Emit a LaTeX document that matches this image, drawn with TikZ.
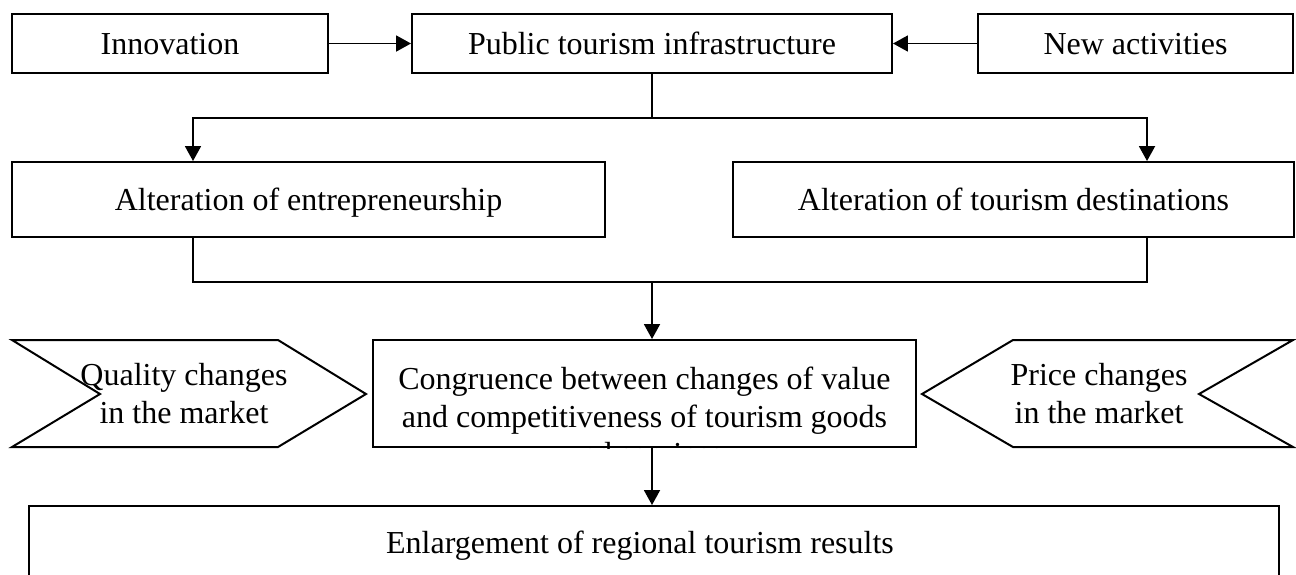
\documentclass[tikz,border=0pt]{standalone}
\usepackage{fontspec}
\setmainfont{Liberation Serif}
\usetikzlibrary{arrows.meta}
\tikzset{
  boxNode/.style 2 args={draw, line width=0.75pt, inner sep=0pt,
    minimum width=#1*0.375pt, minimum height=#2*0.375pt},
  textNode/.style={inner sep=0pt, align=center, font=\fontsize{12}{14}\selectfont},
  oneLine/.style={text height=9.5pt, text depth=1.5pt},
  arrowLine/.style={line width=0.65pt, -{Triangle[length=5.6pt,width=6pt]}},
  plainLine/.style={line width=0.65pt}
}

\begin{document}
\begin{tikzpicture}[x=0.375pt, y=-0.375pt]
        \clip (0,0) rectangle (1296,574);

        % top row
        \node[boxNode={316}{59}, textNode, oneLine] (innov) at (170,43.5) {Innovation};
        \node[boxNode={480}{59}, textNode, oneLine] (pubInfra) at (652,43.5) {Public tourism infrastructure};
        \node[boxNode={315}{59}, textNode, oneLine] (newAct) at (1135.5,43.5) {New activities};
        \draw[arrowLine] (innov) -- (pubInfra);
        \draw[arrowLine] (newAct) -- (pubInfra);

        % alterations
        \node[boxNode={593}{75}, textNode, oneLine] (altEnt) at (308.5,199.5) {Alteration of entrepreneurship};
        \node[boxNode={561}{75}, textNode, oneLine] (altDest) at (1013.5,199.5) {Alteration of tourism destinations};
        \coordinate (split) at (652,118);
        \coordinate (lft) at (193,118);
        \coordinate (rgt) at (1147,118);
        \coordinate (join) at (652,282);
        \draw[plainLine] (pubInfra.south) -- (split);
        \draw[arrowLine] (split) -- (lft) -- (lft |- altEnt.north);
        \draw[arrowLine] (split) -- (rgt) -- (rgt |- altDest.north);
        \draw[plainLine] (lft |- altEnt.south) -- (lft |- join) -- (rgt |- join) -- (rgt |- altDest.south);

        % market changes
        \draw[line width=0.75pt] (12,340) -- (278,340) -- (366,394) -- (278,447) -- (12,447) -- (100,394) -- cycle;
        \draw[line width=0.75pt] (1013,340) -- (1293,340) -- (1199,394) -- (1293,447) -- (1013,447) -- (922,394) -- cycle;
        \node[textNode] (quality) at (184,393.5) {Quality changes\\in the market};
        \node[textNode] (price) at (1099,393.5) {Price changes\\in the market};

        \node[boxNode={543}{107}] (congr) at (644.5,393.5) {};
        \begin{scope}
          \clip (congr.north west) rectangle (congr.south east);
          \node[textNode] (congrText) at (644.5,416) {Congruence between changes of value\\and competitiveness of tourism goods\\and services};
        \end{scope}
        \draw[arrowLine] (join) -- (join |- congr.north);

        % result
        \node[boxNode={1250}{120}] (result) at (654,566) {};
        \node[textNode, oneLine] (resText) at (640,543) {Enlargement of regional tourism results};
        \draw[arrowLine] (join |- congr.south) -- (join |- result.north);
\end{tikzpicture}
\end{document}
